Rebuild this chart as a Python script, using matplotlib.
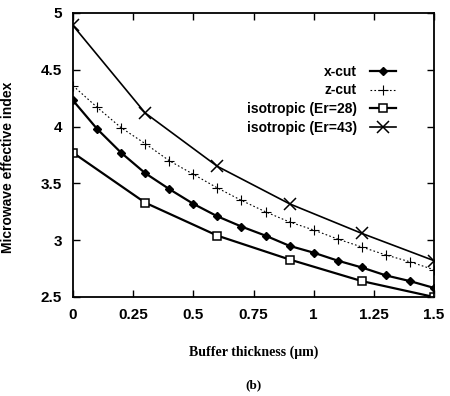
import matplotlib
matplotlib.use("Agg")
import matplotlib.pyplot as plt

# Buffer thickness (um)
x_fine = [0.0, 0.1, 0.2, 0.3, 0.4, 0.5, 0.6, 0.7, 0.8, 0.9, 1.0, 1.1, 1.2, 1.3, 1.4, 1.5]
x_coarse = [0.0, 0.3, 0.6, 0.9, 1.2, 1.5]

# Microwave effective index
x_cut = [4.23, 3.98, 3.77, 3.59, 3.45, 3.32, 3.21, 3.12, 3.04, 2.95, 2.89, 2.82, 2.76, 2.69, 2.64, 2.58]
z_cut = [4.36, 4.17, 3.99, 3.85, 3.70, 3.58, 3.46, 3.35, 3.25, 3.16, 3.09, 3.01, 2.94, 2.87, 2.81, 2.74]
iso_28 = [3.77, 3.33, 3.04, 2.83, 2.64, 2.50]
iso_43 = [4.89, 4.12, 3.65, 3.32, 3.06, 2.82]

labels = ["x-cut", "z-cut", "isotropic (Er=28)", "isotropic (Er=43)"]
xticks = [0, 0.25, 0.5, 0.75, 1, 1.25, 1.5]
xticklabels = ["0", "0.25", "0.5", "0.75", "1", "1.25", "1.5"]
yticks = [2.5, 3, 3.5, 4, 4.5, 5]
yticklabels = ["2.5", "3", "3.5", "4", "4.5", "5"]

fig = plt.figure(figsize=(4.5, 3.96), dpi=100)
ax = fig.add_axes([73 / 450, 1 - 297 / 396, (434 - 73) / 450, (297 - 13) / 396])

ax.plot(x_fine, x_cut, color="black", lw=1.6, marker="D", ms=4.5, label=labels[0])
ax.plot(x_fine, z_cut, color="black", lw=0.8, ls=(0, (1.5, 2)), marker="+", ms=7, mew=0.8, label=labels[1])
ax.plot(x_coarse, iso_28, color="black", lw=1.6, marker="s", ms=6, mfc="white", mew=1.1, label=labels[2])
ax.plot(x_coarse, iso_43, color="black", lw=1.2, marker="x", ms=8, mew=1.1, label=labels[3])

ax.set_xlim(0, 1.5)
ax.set_ylim(2.5, 5)
ax.set_xticks(xticks)
ax.set_xticklabels(xticklabels)
ax.set_yticks(yticks)
ax.set_yticklabels(yticklabels)
ax.tick_params(direction="in", top=True, right=True, length=5, width=1,
               labelsize=11, pad=8)
for lab in ax.get_xticklabels() + ax.get_yticklabels():
    lab.set_fontweight("bold")
    lab.set_family("Liberation Sans")
for s in ax.spines.values():
    s.set_linewidth(1.3)

ax.set_ylabel("Microwave effective index", fontsize=10, fontweight="bold",
              family="Liberation Sans")
ax.yaxis.set_label_coords(-0.16, 0.455)
ax.set_xlabel("Buffer thickness (\u03bcm)", fontsize=10, fontweight="bold",
              family="Liberation Serif", labelpad=17)
fig.text(254 / 450, 1 - 385 / 396, "(b)", ha="center", va="center",
         fontsize=9.5, fontweight="bold", family="Liberation Serif")

leg = ax.legend(loc="upper right", bbox_to_anchor=(0.915, 0.842), frameon=False,
                markerfirst=False, handlelength=1.9, handletextpad=0.95,
                labelspacing=0.33, borderpad=0, prop={"family": "Liberation Sans",
                                                       "weight": "bold", "size": 10})
for t in leg.get_texts():
    t.set_ha("right")

fig.savefig("out.png", dpi=100)
